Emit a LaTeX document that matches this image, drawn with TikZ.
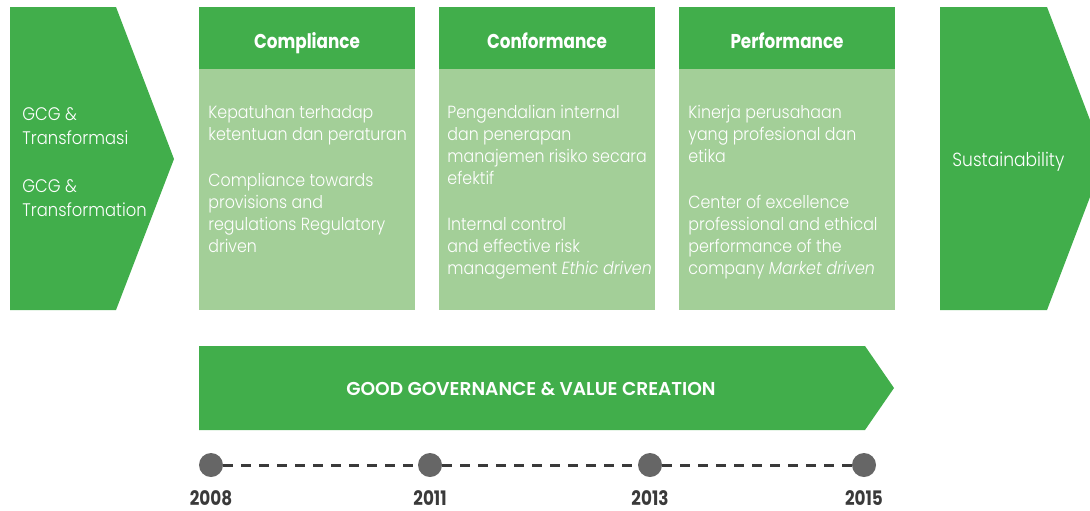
\documentclass[tikz,border=0pt]{standalone}
\usepackage{fontspec}
\setmainfont{Poppins}
\newfontfamily\lightfont{Poppins Light}[ItalicFont={Poppins Light Italic},FakeStretch=0.9]
\newfontfamily\headfont{Poppins Bold}[FakeStretch=0.84]
\newfontfamily\barfont{Poppins SemiBold}
\usetikzlibrary{positioning}

\definecolor{gcgdark}{HTML}{41AE4B}
\definecolor{gcglight}{HTML}{A3CF98}
\definecolor{dotgray}{HTML}{666666}
\definecolor{dashgray}{HTML}{3A3A3A}

\tikzset{
	headtext/.style={text=white,anchor=base,inner sep=0pt,font=\headfont\fontsize{10}{11}\selectfont},
	bartext/.style={text=white,anchor=base,inner sep=0pt,font=\barfont\fontsize{9.3}{11}\selectfont},
	bodytext/.style={text=white,align=left,anchor=north west,inner sep=0pt,font=\lightfont\fontsize{8.8}{11}\selectfont},
	arrowtext/.style={text=white,align=left,inner sep=0pt,font=\lightfont\fontsize{9.5}{12}\selectfont},
	yeardot/.style={circle,fill=dotgray,inner sep=0pt,minimum size=12pt},
	yearlabel/.style={text=dashgray,anchor=base,inner sep=0pt,font=\headfont\fontsize{10}{11}\selectfont}
}

\begin{document}
\begin{tikzpicture}[x=0.5pt,y=-0.5pt]
	\useasboundingbox (0,0) rectangle (1090,510);
	
	% side arrows
	\fill[gcgdark] (10,7) -- (116,7) -- (174,159) -- (116,310) -- (10,310) -- cycle;
	\fill[gcgdark] (940,7) -- (1047,7) -- (1090,120) -- (1090,197) -- (1047,310) -- (940,310) -- cycle;
	
	% the three boxes
	\foreach \x in {199,439,679} {
		\fill[gcgdark] (\x,7) rectangle ++(216,62);
		\fill[gcglight] (\x,69) rectangle ++(216,241);
	}
	
	% bottom bar
	\fill[gcgdark] (199,346) -- (865,346) -- (894,388) -- (865,430) -- (199,430) -- cycle;
	
	\node[arrowtext,anchor=west,font=\lightfont\fontsize{9.1}{12}\selectfont] (gcg) at (22,162) {GCG \&\\Transformasi\\[12pt]GCG \&\\Transformation};
	\node[arrowtext,anchor=west] (sustain) at (952,162) {Sustainability};
	
	\node[headtext] (compliance) at (307,48) {Compliance};
	\node[headtext] (conformance) at (547,48) {Conformance};
	\node[headtext] (performance) at (787,48) {Performance};
	
	\node[bodytext] (complytext) at (208,105) {Kepatuhan terhadap\\ketentuan dan peraturan\\[12pt]Compliance towards\\provisions and\\regulations Regulatory\\driven};
	\node[bodytext] (conformtext) at (447,105) {Pengendalian internal\\dan penerapan\\manajemen risiko secara\\efektif\\[12pt]Internal control\\and effective risk\\management \textit{Ethic driven}};
	\node[bodytext] (performtext) at (688,105) {Kinerja perusahaan\\yang profesional dan\\etika\\[12pt]Center of excellence\\professional and ethical\\performance of the\\company \textit{Market driven}};
	
	\node[bartext] (valuecreation) at (531,395) {GOOD GOVERNANCE \& VALUE CREATION};
	
	% timeline
	\node[yeardot] (y2008) at (211,465) {};
	\node[yeardot] (y2011) at (430,465) {};
	\node[yeardot] (y2013) at (650,465) {};
	\node[yeardot] (y2015) at (864,465) {};
	\draw[dashgray,line width=1.5pt,dash pattern=on 5pt off 4pt] (y2008) -- (y2011) -- (y2013) -- (y2015);
	
	\node[yearlabel] (l2008) at (211,505) {2008};
	\node[yearlabel] (l2011) at (430,505) {2011};
	\node[yearlabel] (l2013) at (650,505) {2013};
	\node[yearlabel] (l2015) at (864,505) {2015};
\end{tikzpicture}
\end{document}
